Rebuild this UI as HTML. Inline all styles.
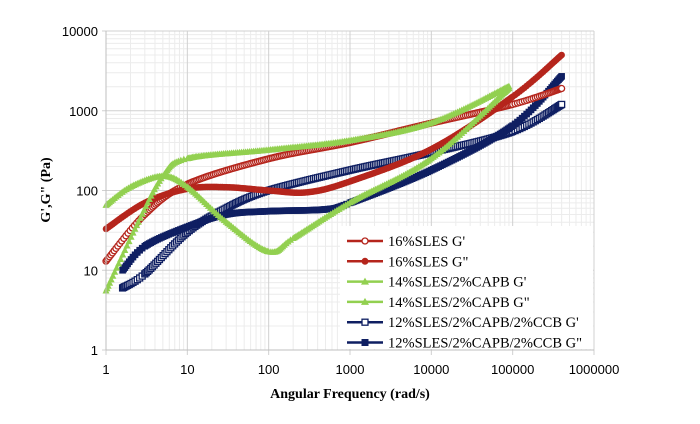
<!DOCTYPE html><html><head><style>body{margin:0;background:#fff}svg{display:block}</style></head><body>
<svg id="s" width="700" height="424" xmlns="http://www.w3.org/2000/svg" font-family="Liberation Sans, sans-serif"></svg>
<script>
const s=document.getElementById('s');const NS='http://www.w3.org/2000/svg';
const L=106,R=594,T=31,B=350;
const X=w=>L+(R-L)/6*Math.log10(w), Y=v=>B-(B-T)/4*Math.log10(v);
function el(n,a,p){const e=document.createElementNS(NS,n);for(const k in a)e.setAttribute(k,a[k]);(p||s).appendChild(e);return e;}
for(let d=0;d<6;d++)for(let m=2;m<10;m++){const x=X(Math.pow(10,d)*m);el('line',{x1:x,x2:x,y1:T,y2:B,stroke:'#ececec'});}
for(let d=0;d<4;d++)for(let m=2;m<10;m++){const y=Y(Math.pow(10,d)*m);el('line',{x1:L,x2:R,y1:y,y2:y,stroke:'#ececec'});}
for(let d=0;d<=6;d++){const x=X(Math.pow(10,d));el('line',{x1:x,x2:x,y1:T,y2:B+5,stroke:'#d0d0d0'});
 const t=el('text',{x:x,y:B+24,'text-anchor':'middle','font-size':'13'});t.textContent=Math.pow(10,d);}
for(let d=0;d<=4;d++){const y=Y(Math.pow(10,d));el('line',{x1:L-4,x2:R,y1:y,y2:y,stroke:'#d0d0d0'});
 const t=el('text',{x:L-8,y:y+5,'text-anchor':'end','font-size':'13'});t.textContent=Math.pow(10,d);}
function series(pts,col,type){
 const P=pts.map(p=>[Math.log10(p[0]),Math.log10(p[1])]);let dd=[];
 for(let i=0;i<P.length-1;i++){const n=Math.max(6,Math.round((P[i+1][0]-P[i][0])*45));for(let k=0;k<n;k++){const t=k/n;
  const p0=P[Math.max(i-1,0)],p1=P[i],p2=P[i+1],p3=P[Math.min(i+2,P.length-1)];
  const f=(a,b,c,d)=>0.5*((2*b)+(-a+c)*t+(2*a-5*b+4*c-d)*t*t+(-a+3*b-3*c+d)*t*t*t);
  dd.push([f(p0[0],p1[0],p2[0],p3[0]),f(p0[1],p1[1],p2[1],p3[1])]);}}
 dd.push(P[P.length-1]);
 const q=dd.map(p=>[L+(R-L)/6*p[0],B-(B-T)/4*p[1]]);
 el('polyline',{points:q.map(p=>p.join(',')).join(' '),fill:'none',stroke:col,'stroke-width':2});
 for(const p of q){
  if(type=='oc')el('circle',{cx:p[0],cy:p[1],r:3,fill:'#fff',stroke:col,'stroke-width':1.3});
  else if(type=='fc')el('circle',{cx:p[0],cy:p[1],r:3.3,fill:col});
  else if(type=='tr')el('polygon',{points:`${p[0]},${p[1]-4} ${p[0]-3.5},${p[1]+2.5} ${p[0]+3.5},${p[1]+2.5}`,fill:col});
  else if(type=='os')el('rect',{x:p[0]-3,y:p[1]-3,width:6,height:6,fill:'#fff',stroke:col,'stroke-width':1.3});
  else el('rect',{x:p[0]-3.3,y:p[1]-3.3,width:6.6,height:6.6,fill:col});
 }}
const red='#b5251c',grn='#92d050',blu='#0f1f62';
series([[1.6,6],[3,9],[10,30],[30,60],[100,100],[1000,180],[10000,300],[100000,550],[400000,1200]],blu,'os');
series([[1.6,10],[3,20],[10,35],[30,50],[100,55],[500,58],[1000,70],[10000,180],[100000,650],[400000,2700]],blu,'fs');
series([[1,13],[3,50],[10,120],[100,250],[1000,400],[10000,700],[100000,1200],[400000,1900]],red,'oc');
series([[1,33],[3,70],[10,105],[30,110],[100,100],[300,95],[1000,130],[10000,330],[100000,1500],[400000,5000]],red,'fc');
series([[1,5.5],[2.5,40],[5,150],[10,250],[100,320],[1000,420],[10000,700],[90000,2000]],grn,'tr');
series([[1,65],[2,110],[5,150],[10,110],[30,40],[100,17],[200,25],[1000,70],[10000,250],[90000,1900]],grn,'tr');
el('line',{x1:L,x2:L,y1:T,y2:B,stroke:'#bfbfbf'});el('line',{x1:L,x2:R,y1:B,y2:B,stroke:'#bfbfbf'});
el('rect',{x:340,y:226,width:253,height:123,fill:'#fff'});
const lg=[['16%SLES G\'',red,'oc'],['16%SLES G"',red,'fc'],['14%SLES/2%CAPB G\'',grn,'tr'],['14%SLES/2%CAPB G"',grn,'tr'],['12%SLES/2%CAPB/2%CCB G\'',blu,'os'],['12%SLES/2%CAPB/2%CCB G"',blu,'fs']];
lg.forEach((l,i)=>{const y=241+i*20.3;el('line',{x1:347,x2:383,y1:y,y2:y,stroke:l[1],'stroke-width':2.5});
 const cx=365;
 if(l[2]=='oc')el('circle',{cx,cy:y,r:3,fill:'#fff',stroke:l[1],'stroke-width':1.3});
 else if(l[2]=='fc')el('circle',{cx,cy:y,r:3.5,fill:l[1]});
 else if(l[2]=='tr')el('polygon',{points:`${cx},${y-4} ${cx-4},${y+3} ${cx+4},${y+3}`,fill:l[1]});
 else if(l[2]=='os')el('rect',{x:cx-3,y:y-3,width:6,height:6,fill:'#fff',stroke:l[1],'stroke-width':1.3});
 else el('rect',{x:cx-3.5,y:y-3.5,width:7,height:7,fill:l[1]});
 const t=el('text',{x:388,y:y+5,'font-size':'14.5','font-family':'Liberation Serif, serif'});t.textContent=l[0];});
let t=el('text',{x:350,y:398,'text-anchor':'middle','font-size':'14','font-weight':'bold','font-family':'Liberation Serif, serif'});t.textContent='Angular Frequency (rad/s)';
t=el('text',{x:0,y:0,transform:'translate(50,190) rotate(-90)','text-anchor':'middle','font-size':'14','font-weight':'bold','font-family':'Liberation Serif, serif'});t.textContent='G\',G" (Pa)';
</script></body></html>
